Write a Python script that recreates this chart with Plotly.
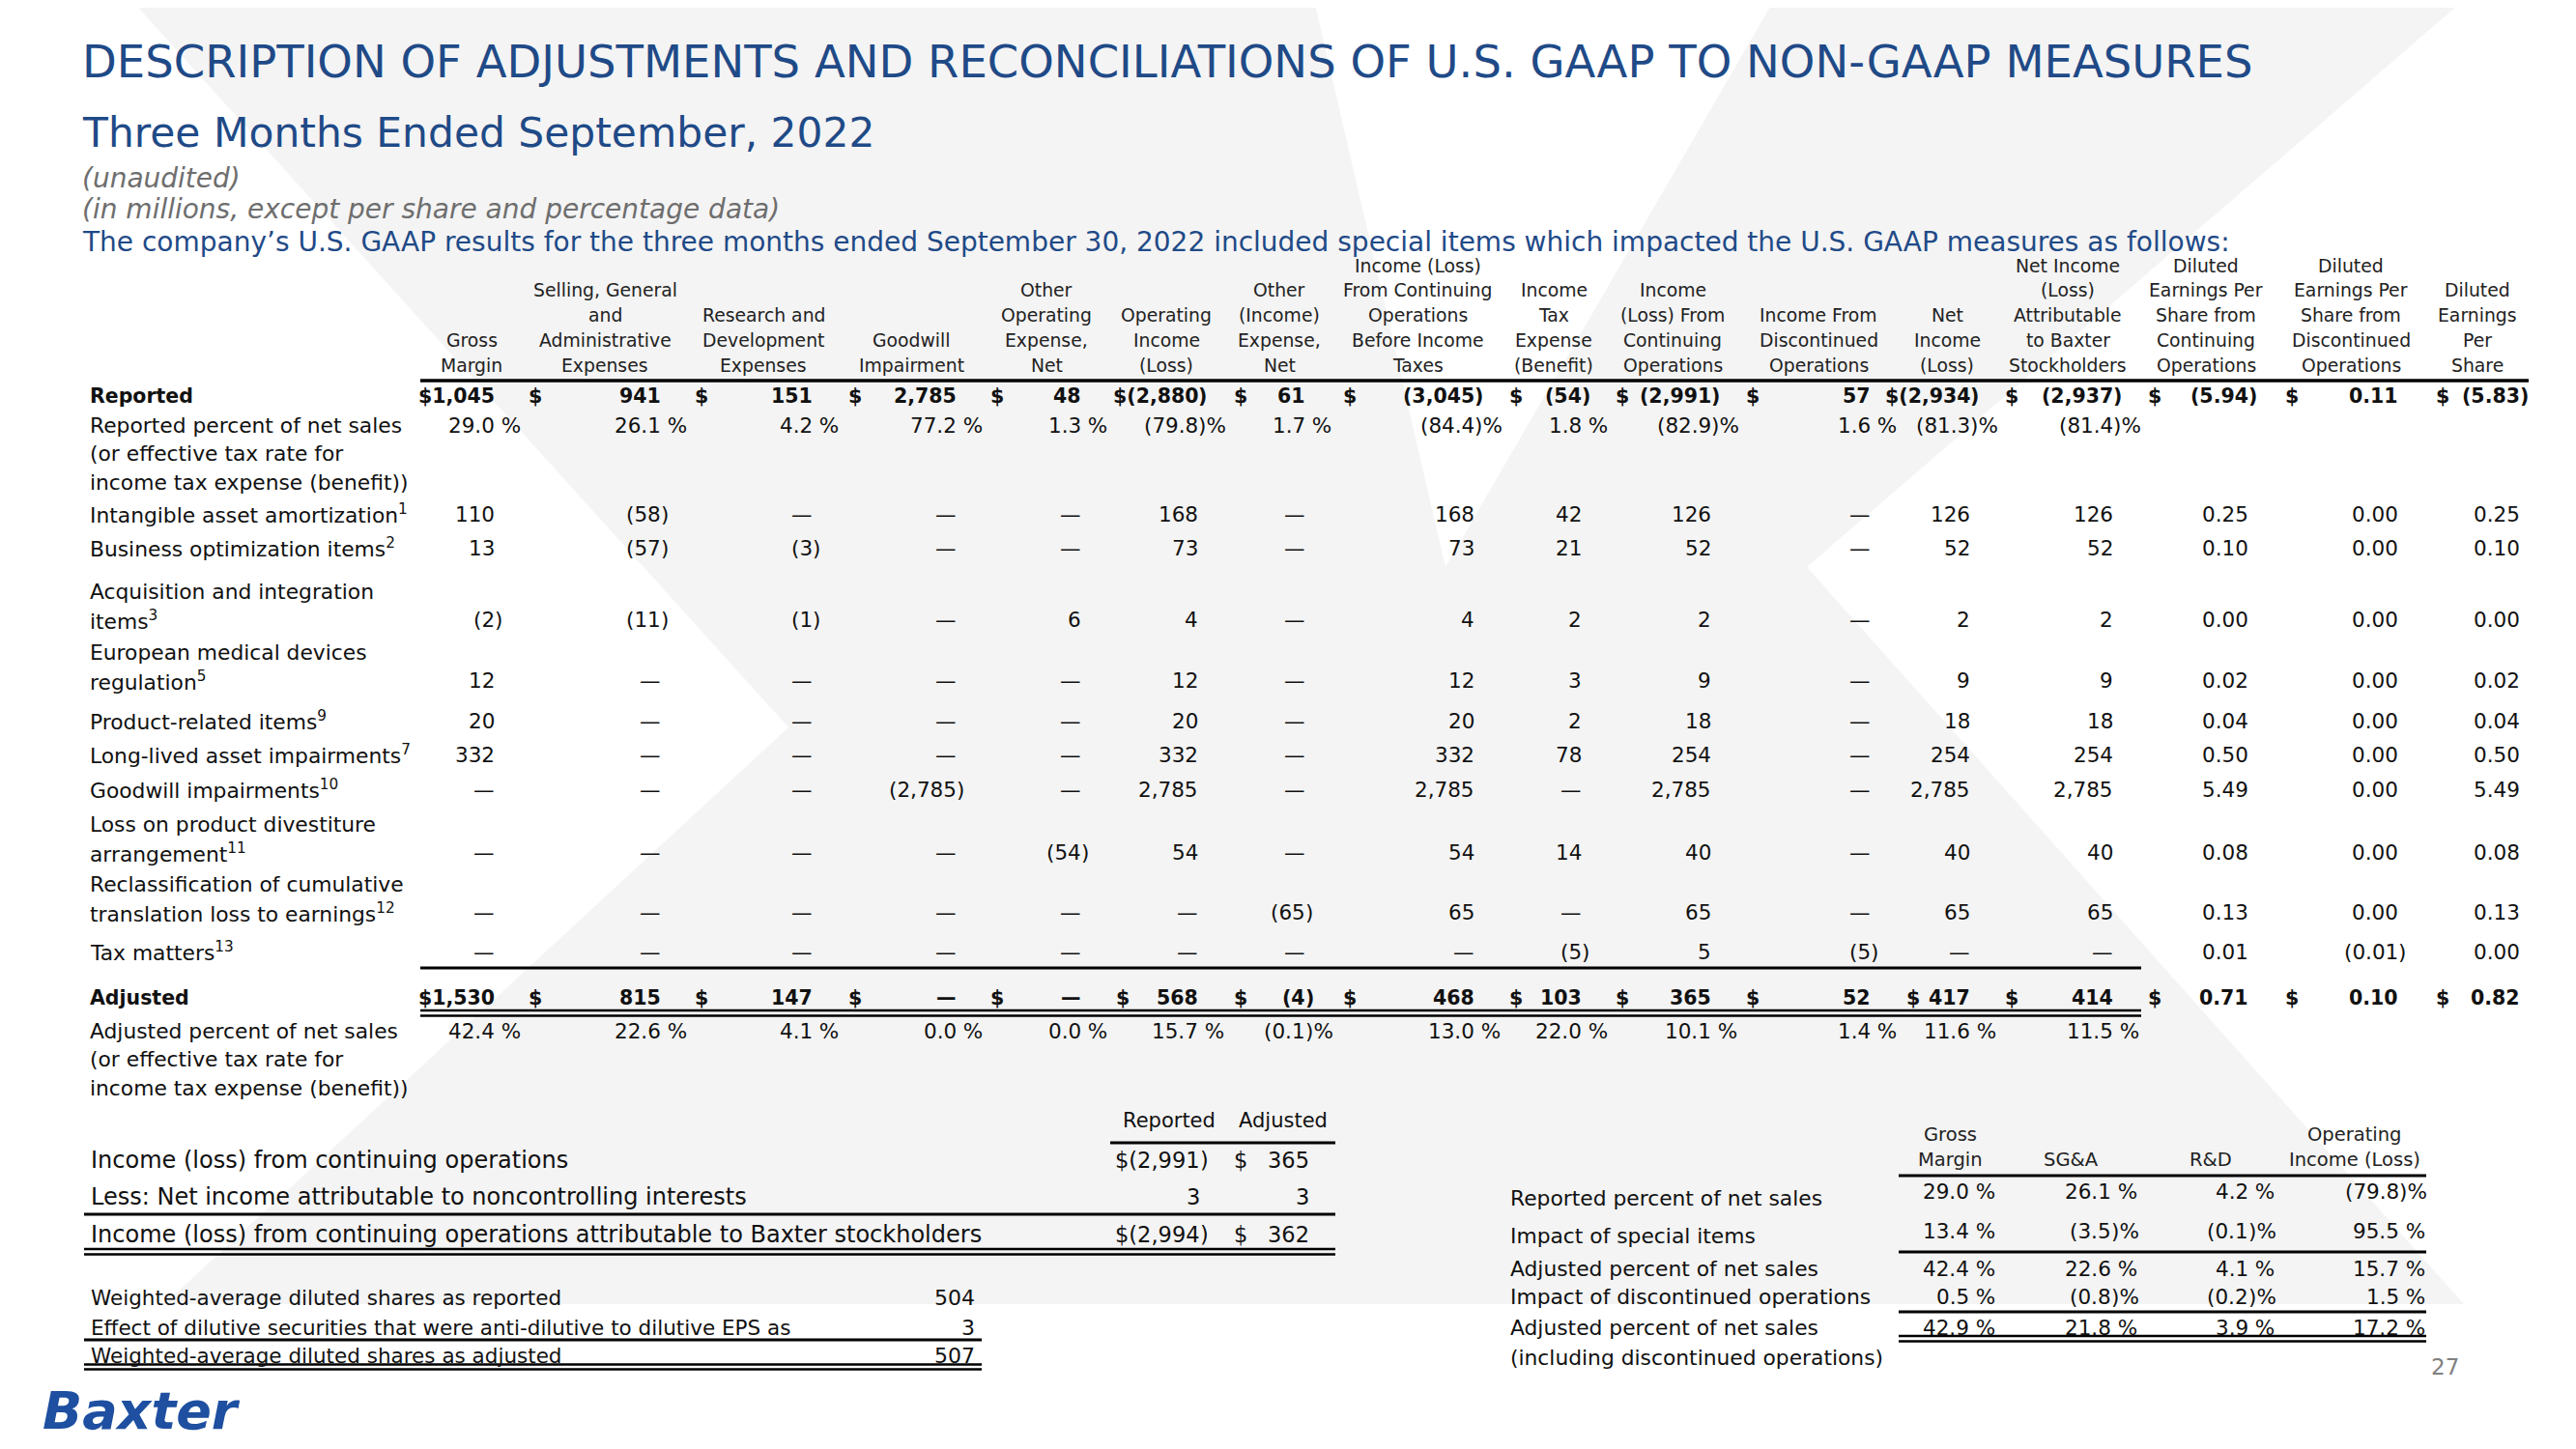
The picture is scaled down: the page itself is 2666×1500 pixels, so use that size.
import plotly.graph_objects as go

# ---------------- DATA ----------------
TITLE = "DESCRIPTION OF ADJUSTMENTS AND RECONCILIATIONS OF U.S. GAAP TO NON-GAAP MEASURES"
SUBTITLE = "Three Months Ended September, 2022"
NOTE1 = "(unaudited)"
NOTE2 = "(in millions, except per share and percentage data)"
INTRO = ("The company’s U.S. GAAP results for the three months ended September 30, 2022 "
         "included special items which impacted the U.S. GAAP measures as follows:")

COL_HEADERS = [
    ["Gross", "Margin"],
    ["Selling, General", "and", "Administrative", "Expenses"],
    ["Research and", "Development", "Expenses"],
    ["Goodwill", "Impairment"],
    ["Other", "Operating", "Expense,", "Net"],
    ["Operating", "Income", "(Loss)"],
    ["Other", "(Income)", "Expense,", "Net"],
    ["Income (Loss)", "From Continuing", "Operations", "Before Income", "Taxes"],
    ["Income", "Tax", "Expense", "(Benefit)"],
    ["Income", "(Loss) From", "Continuing", "Operations"],
    ["Income From", "Discontinued", "Operations"],
    ["Net", "Income", "(Loss)"],
    ["Net Income", "(Loss)", "Attributable", "to Baxter", "Stockholders"],
    ["Diluted", "Earnings Per", "Share from", "Continuing", "Operations"],
    ["Diluted", "Earnings Per", "Share from", "Discontinued", "Operations"],
    ["Diluted", "Earnings", "Per", "Share"],
]

REPORTED = ["$1,045", "$ 941", "$ 151", "$ 2,785", "$ 48", "$(2,880)", "$ 61", "$ (3,045)",
            "$ (54)", "$ (2,991)", "$ 57", "$(2,934)", "$ (2,937)", "$ (5.94)", "$ 0.11", "$ (5.83)"]
REPORTED_PCT = ["29.0 %", "26.1 %", "4.2 %", "77.2 %", "1.3 %", "(79.8)%", "1.7 %", "(84.4)%",
                "1.8 %", "(82.9)%", "1.6 %", "(81.3)%", "(81.4)%", "", "", ""]
INTANGIBLE = ["110", "(58)", "—", "—", "—", "168", "—", "168", "42", "126", "—", "126", "126", "0.25", "0.00", "0.25"]
BUSINESS_OPT = ["13", "(57)", "(3)", "—", "—", "73", "—", "73", "21", "52", "—", "52", "52", "0.10", "0.00", "0.10"]
ACQUISITION = ["(2)", "(11)", "(1)", "—", "6", "4", "—", "4", "2", "2", "—", "2", "2", "0.00", "0.00", "0.00"]
EU_MDR = ["12", "—", "—", "—", "—", "12", "—", "12", "3", "9", "—", "9", "9", "0.02", "0.00", "0.02"]
PRODUCT = ["20", "—", "—", "—", "—", "20", "—", "20", "2", "18", "—", "18", "18", "0.04", "0.00", "0.04"]
LONG_LIVED = ["332", "—", "—", "—", "—", "332", "—", "332", "78", "254", "—", "254", "254", "0.50", "0.00", "0.50"]
GOODWILL = ["—", "—", "—", "(2,785)", "—", "2,785", "—", "2,785", "—", "2,785", "—", "2,785", "2,785", "5.49", "0.00", "5.49"]
DIVESTITURE = ["—", "—", "—", "—", "(54)", "54", "—", "54", "14", "40", "—", "40", "40", "0.08", "0.00", "0.08"]
RECLASS = ["—", "—", "—", "—", "—", "—", "(65)", "65", "—", "65", "—", "65", "65", "0.13", "0.00", "0.13"]
TAX = ["—", "—", "—", "—", "—", "—", "—", "—", "(5)", "5", "(5)", "—", "—", "0.01", "(0.01)", "0.00"]
ADJUSTED = ["$1,530", "$ 815", "$ 147", "$ —", "$ —", "$ 568", "$ (4)", "$ 468",
            "$ 103", "$ 365", "$ 52", "$ 417", "$ 414", "$ 0.71", "$ 0.10", "$ 0.82"]
ADJUSTED_PCT = ["42.4 %", "22.6 %", "4.1 %", "0.0 %", "0.0 %", "15.7 %", "(0.1)%", "13.0 %",
                "22.0 %", "10.1 %", "1.4 %", "11.6 %", "11.5 %", "", "", ""]

ROW_LABELS = [
    ["Reported"],
    ["Reported percent of net sales", "(or effective tax rate for", "income tax expense (benefit))"],
    ["Intangible asset amortization<sup>1</sup>"],
    ["Business optimization items<sup>2</sup>"],
    ["Acquisition and integration", "items<sup>3</sup>"],
    ["European medical devices", "regulation<sup>5</sup>"],
    ["Product-related items<sup>9</sup>"],
    ["Long-lived asset impairments<sup>7</sup>"],
    ["Goodwill impairments<sup>10</sup>"],
    ["Loss on product divestiture", "arrangement<sup>11</sup>"],
    ["Reclassification of cumulative", "translation loss to earnings<sup>12</sup>"],
    ["Tax matters<sup>13</sup>"],
    ["Adjusted"],
    ["Adjusted percent of net sales", "(or effective tax rate for", "income tax expense (benefit))"],
]
ROW_VALUES = [REPORTED, REPORTED_PCT, INTANGIBLE, BUSINESS_OPT, ACQUISITION, EU_MDR, PRODUCT,
              LONG_LIVED, GOODWILL, DIVESTITURE, RECLASS, TAX, ADJUSTED, ADJUSTED_PCT]
ROW_BOLD = [True, False, False, False, False, False, False, False, False, False, False, False, True, False]

# bottom-left reconciliation
NCI_LABELS = ["Income (loss) from continuing operations",
              "Less: Net income attributable to noncontrolling interests",
              "Income (loss) from continuing operations attributable to Baxter stockholders"]
NCI_HEADERS = ["Reported", "Adjusted"]
NCI_REPORTED = ["$(2,991)", "3", "$(2,994)"]
NCI_ADJUSTED = ["$ 365", "3", "$ 362"]

SHARE_LABELS = ["Weighted-average diluted shares as reported",
                "Effect of dilutive securities that were anti-dilutive to dilutive EPS as",
                "Weighted-average diluted shares as adjusted"]
SHARE_VALUES = ["504", "3", "507"]

# bottom-right percent table
PCT_HEADERS = [["Gross", "Margin"], ["SG&A"], ["R&D"], ["Operating", "Income (Loss)"]]
PCT_LABELS = ["Reported percent of net sales", "Impact of special items", "Adjusted percent of net sales",
              "Impact of discontinued operations", "Adjusted percent of net sales",
              "(including discontinued operations)"]
PCT_REPORTED = ["29.0 %", "26.1 %", "4.2 %", "(79.8)%"]
PCT_SPECIAL = ["13.4 %", "(3.5)%", "(0.1)%", "95.5 %"]
PCT_ADJUSTED = ["42.4 %", "22.6 %", "4.1 %", "15.7 %"]
PCT_DISC = ["0.5 %", "(0.8)%", "(0.2)%", "1.5 %"]
PCT_ADJ_DISC = ["42.9 %", "21.8 %", "3.9 %", "17.2 %"]
PCT_ROWS = [PCT_REPORTED, PCT_SPECIAL, PCT_ADJUSTED, PCT_DISC, PCT_ADJ_DISC]

PAGE = "27"
LOGO = "Baxter"

# ---------------- LAYOUT ----------------
W, H = 2666, 1500
PAD = 8  # default page body margin
FONT = "DejaVu Sans"
BLUE = "#1F4A87"
GRAY = "#6e6e6e"
INK = "#111111"

COL_X = [512, 684, 841, 990, 1119, 1240, 1351, 1526, 1637, 1771, 1936, 2039, 2187, 2327, 2482, 2608]
DOLLAR_X = [None, 547, 719, 878, 1025, 1155, 1277, 1390, 1562, 1672, 1807, 1973, 2075, 2223, 2365, 2521]
HDR_X = [488, 626, 790, 943, 1083, 1207, 1324, 1467, 1608, 1731, 1882, 2015, 2140, 2283, 2433, 2564]
HDR_Y = [275, 300.5, 326.5, 352, 378]
ROW_Y = [410, 440, 532, 567, 612, 675, 746, 781, 817, 853, 915, 985, 1033, 1067]
LINE_GAP = 29.5
LABEL_X = 93
LABEL_FS, VAL_FS, BOLD_FS, HDR_FS = 21.8, 21.5, 20.5, 18.8

annos = []
shapes = []


def txt(x, y, s, size, anchor="left", color=INK):
    annos.append(dict(x=x, y=y, xref="x", yref="y", text=s, showarrow=False,
                      xanchor=anchor, yanchor="middle", borderpad=0, borderwidth=0,
                      font=dict(family=FONT, size=size, color=color)))


def hline(x0, x1, y, w=3):
    shapes.append(dict(type="line", xref="x", yref="y", x0=x0, x1=x1, y0=y, y1=y,
                       line=dict(color="#000000", width=w), layer="above"))


def cell(col_x, dollar_x, y, s, size, bold=False):
    if not s:
        return
    wrap = (lambda t: "<b>" + t + "</b>") if bold else (lambda t: t)
    if s.startswith("$ "):
        txt(dollar_x, y, wrap("$"), size, "left")
        s = s[2:].strip()
    core, suf = s, ""
    if s.endswith(")%"):
        core, suf = s[:-2], ")%"
    elif s.endswith(" %"):
        core, suf = s[:-2], "\u00a0%"
    elif s.endswith(")"):
        core, suf = s[:-1], ")"
    txt(col_x, y, wrap(core), size, "right")
    if suf:
        txt(col_x, y, wrap(suf), size, "left")


# background watermark
shapes.append(dict(type="path", xref="x", yref="y", layer="below",
                   path="M136,0 L2550,0 L1870,587 L2550,1350 L170,1350 L816,753 Z",
                   fillcolor="#f4f4f4", line=dict(width=0)))
shapes.append(dict(type="path", xref="x", yref="y", layer="below",
                   path="M1360,0 L1836,0 L1496,587 Z",
                   fillcolor="#ffffff", line=dict(width=0)))

# titles
txt(85, 64, TITLE, 46.5, "left", BLUE)
txt(85, 137, SUBTITLE, 42.4, "left", BLUE)
txt(85, 184, "<i>" + NOTE1 + "</i>", 28, "left", GRAY)
txt(85, 216, "<i>" + NOTE2 + "</i>", 28, "left", GRAY)
txt(85, 250, INTRO, 28, "left", BLUE)

# column headers (bottom aligned)
for ci, lines in enumerate(COL_HEADERS):
    start = len(HDR_Y) - len(lines)
    for li, line in enumerate(lines):
        txt(HDR_X[ci], HDR_Y[start + li], line, HDR_FS, "center", "#222222")

hline(435, 2617, 394, 3.5)

# main rows
for ri, (labels, vals) in enumerate(zip(ROW_LABELS, ROW_VALUES)):
    bold = ROW_BOLD[ri]
    y0 = ROW_Y[ri]
    for li, lab in enumerate(labels):
        txt(LABEL_X, y0 + li * LINE_GAP, ("<b>" + lab + "</b>") if bold else lab,
            BOLD_FS if bold else LABEL_FS, "left")
    is_pct = any(v.endswith("%") for v in vals)
    vy = y0 if is_pct else y0 + (len(labels) - 1) * LINE_GAP
    for ci, v in enumerate(vals):
        cell(COL_X[ci], DOLLAR_X[ci], vy, v, BOLD_FS if bold else VAL_FS, bold)

hline(435, 2216, 1002, 3)
hline(435, 2216, 1046, 2.5)
hline(435, 2216, 1051.5, 2.5)

# bottom-left reconciliation
NCI_Y = [1201, 1239, 1278]
txt(1210, 1160, NCI_HEADERS[0], 21, "center")
txt(1328, 1160, NCI_HEADERS[1], 21, "center")
hline(1149, 1382, 1183, 3)
for i, lab in enumerate(NCI_LABELS):
    txt(94, NCI_Y[i], lab, 24, "left")
    cell(1242, None, NCI_Y[i], NCI_REPORTED[i], 22.5)
    cell(1355, 1277, NCI_Y[i], NCI_ADJUSTED[i], 22.5)
hline(87, 1382, 1257, 3)
hline(87, 1382, 1293, 2.5)
hline(87, 1382, 1298.5, 2.5)

SH_Y = [1343, 1374, 1403]
for i, lab in enumerate(SHARE_LABELS):
    txt(94, SH_Y[i], lab, 21.5, "left")
    txt(1009, SH_Y[i], SHARE_VALUES[i], 22, "right")
hline(87, 1016, 1387, 3)
hline(87, 1016, 1412.5, 2.5)
hline(87, 1016, 1417.5, 2.5)

# bottom-right percent table
PH_X = [2018, 2143, 2288, 2437]
PH_Y = [1174, 1200]
for ci, lines in enumerate(PCT_HEADERS):
    start = len(PH_Y) - len(lines)
    for li, line in enumerate(lines):
        txt(PH_X[ci], PH_Y[start + li], line, 19.5, "center", "#222222")
hline(1965, 2511, 1217, 3)
PL_Y = [1240, 1279, 1313, 1342, 1374, 1405]
for i, lab in enumerate(PCT_LABELS):
    txt(1563, PL_Y[i], lab, 21.8, "left")
PV_X = [2038, 2185, 2327, 2483]
PV_Y = [1233, 1274, 1313, 1342, 1374]
for ri, row in enumerate(PCT_ROWS):
    for ci, v in enumerate(row):
        cell(PV_X[ci], None, PV_Y[ri], v, 21.5)
hline(1965, 2511, 1296, 3)
hline(1965, 2511, 1358, 3)
hline(1965, 2511, 1383, 2.5)
hline(1965, 2511, 1388.5, 2.5)

# page number and logo
txt(2545, 1415, PAGE, 23, "right", "#808080")
txt(44, 1460, "<b><i>" + LOGO + "</i></b>", 54, "left", "#1E4FA0")

# the page body has an 8px margin: size the figure so that axis units equal page pixels
fig = go.Figure()
fig.update_layout(
    width=W - 2 * PAD, height=H - 2 * PAD,
    margin=dict(l=0, r=0, t=0, b=0),
    paper_bgcolor="#ffffff", plot_bgcolor="#ffffff",
    xaxis=dict(range=[PAD, W - PAD], visible=False, fixedrange=True),
    yaxis=dict(range=[H - PAD, PAD], visible=False, fixedrange=True),
    annotations=annos, shapes=shapes, showlegend=False,
)
fig.write_html("out.html")
